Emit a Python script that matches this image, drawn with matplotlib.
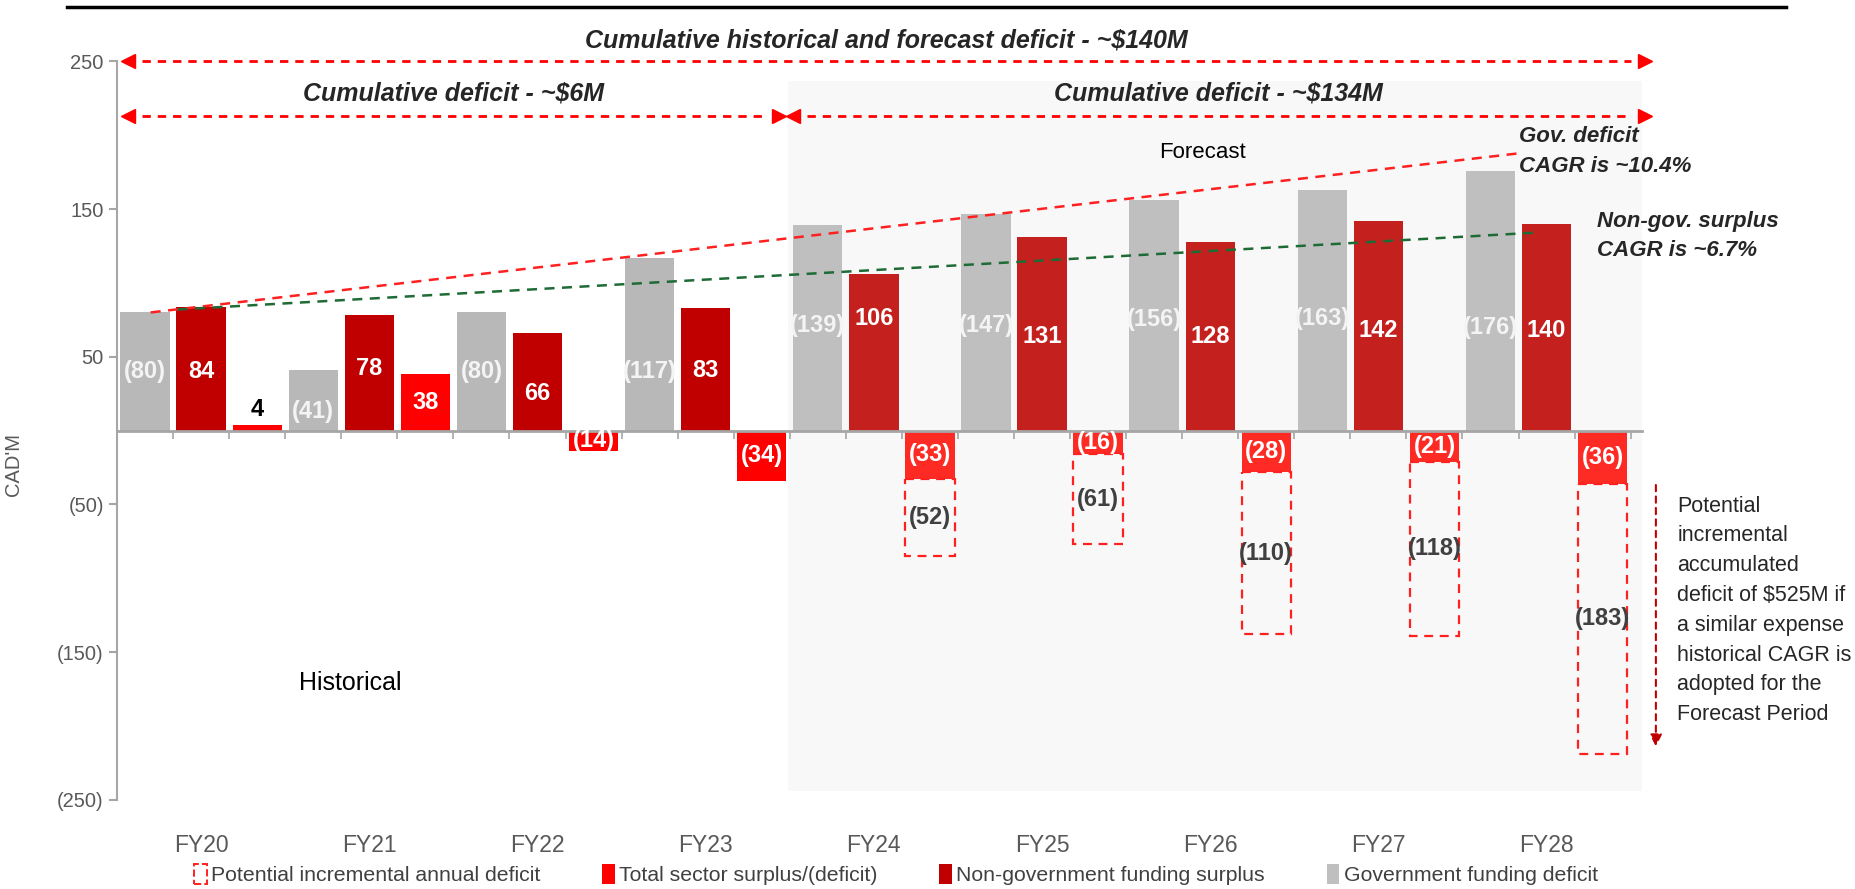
import matplotlib
matplotlib.use("Agg")
import matplotlib.pyplot as plt
from matplotlib import font_manager
from matplotlib.patches import Patch, Rectangle
from matplotlib.lines import Line2D
import numpy as np

# ---- data ----
years = ["FY20", "FY21", "FY22", "FY23", "FY24", "FY25", "FY26", "FY27", "FY28"]
gov_deficit = [80, 41, 80, 117, 139, 147, 156, 163, 176]
nongov_surplus = [84, 78, 66, 83, 106, 131, 128, 142, 140]
total_sector = [4, 38, -14, -34, -33, -16, -28, -21, -36]
# potential incremental annual deficit (forecast years only)
incr_years = ["FY24", "FY25", "FY26", "FY27", "FY28"]
incr_deficit = [-52, -61, -110, -118, -183]

yticks = [250, 150, 50, -50, -150, -250]
ytick_labels = ["250", "150", "50", "(50)", "(150)", "(250)"]

# label heights inside the bars (layout only)
gov_label_y = [40, 13, 40, 40, 71, 71, 75, 76, 70]
nongov_label_y = [40, 42, 25, 41, 76, 64, 64, 68, 68]

names = {f.name for f in font_manager.fontManager.ttflist}
NARROW = "Liberation Sans Narrow" if "Liberation Sans Narrow" in names else "Liberation Sans"
REG = "Liberation Sans"
plt.rcParams['font.family'] = [REG, 'DejaVu Sans']


def paren(v):
    return f"({abs(v)})" if v < 0 else f"{v}"


fig = plt.figure(figsize=(18.55, 8.89), dpi=100)
ax = fig.add_axes([0.0631, 0.1005, 0.822, 0.8304])
ax.set_xlim(-0.5, 26.7)
ax.set_ylim(-250, 250)

# forecast shading
ax.add_patch(Rectangle((11.46, -244), 26.75 - 11.46, 481, facecolor='#f8f8f8',
                       edgecolor='none', zorder=0))

n = len(years)
x_gov = np.arange(n) * 3
x_ng = x_gov + 1
x_tot = x_gov + 2
w = 0.88
fc = [k >= 4 for k in range(n)]

ax.bar(x_gov, gov_deficit, width=w, color=['#bfbfbf' if f else '#b8b8b8' for f in fc], zorder=2)
ax.bar(x_ng, nongov_surplus, width=w, color=['#c3201e' if f else '#c00000' for f in fc], zorder=2)
ax.bar(x_tot, total_sector, width=w, color=['#fd2b24' if f else '#ff0000' for f in fc], zorder=2)

# dashed boxes for potential incremental deficit
incr_idx = [years.index(y) for y in incr_years]
incr_x = x_tot[incr_idx]
incr_base = np.array(total_sector)[incr_idx]
ax.bar(incr_x, incr_deficit, bottom=incr_base, width=w, fill=False,
       edgecolor='#ff2020', linestyle=(0, (4, 3)), linewidth=1.6, zorder=2)

lab_kw = dict(ha='center', va='center', fontfamily=NARROW, fontweight='bold', fontsize=17, zorder=5)
for i in range(n):
    ax.text(x_gov[i], gov_label_y[i], f"({gov_deficit[i]})", color='#f4f4f4', **lab_kw)
    ax.text(x_ng[i], nongov_label_y[i], f"{nongov_surplus[i]}", color='white', **lab_kw)
    t = total_sector[i]
    if 0 <= t < 10:
        ax.text(x_tot[i], t + 10, paren(t), color='black', **lab_kw)
    else:
        ax.text(x_tot[i], t / 2, paren(t), color='white', **lab_kw)
for xi, b, v in zip(incr_x, incr_base, incr_deficit):
    ax.text(xi, b + v / 2, paren(v), color='#404040', **lab_kw)

# axes styling
for s in ['top', 'right']:
    ax.spines[s].set_visible(False)
ax.spines['left'].set_color('#a6a6a6')
ax.spines['left'].set_linewidth(1.5)
ax.spines['bottom'].set_position(('data', 0))
ax.spines['bottom'].set_color('#a6a6a6')
ax.spines['bottom'].set_linewidth(2)
ax.set_yticks(yticks)
ax.set_yticklabels(ytick_labels)
ax.tick_params(axis='y', colors='#a6a6a6', labelcolor='#595959', labelsize=14.5, length=6, width=1.5)
ax.set_xticks(np.arange(-0.5, 27, 1.0)[:28])
ax.set_xticklabels([])
ax.tick_params(axis='x', colors='#a6a6a6', length=6, width=1.2, direction='out')
ax.set_ylabel("CAD'M", color='#595959', fontsize=14.5)
ax.yaxis.set_label_coords(-0.062, 0.4535)

for i, y in enumerate(years):
    ax.text(x_ng[i], -281, y, ha='center', va='center', color='#595959', fontsize=16.5, clip_on=False)

# cumulative arrows
red = '#ff0000'


def dbl_arrow(x0, x1, y, txt, ty):
    ax.plot([x0 + 0.25, x1 - 0.25], [y, y], color=red, linestyle=(0, (3, 2.5)), lw=2, zorder=4, clip_on=False)
    ax.plot([x0], [y], marker='<', color=red, markersize=10, zorder=4, clip_on=False)
    ax.plot([x1], [y], marker='>', color=red, markersize=10, zorder=4, clip_on=False)
    ax.text((x0 + x1) / 2, ty, txt, ha='center', va='center', fontfamily=NARROW,
            fontweight='bold', fontstyle='italic', fontsize=18, color='#262626', clip_on=False)


dbl_arrow(-0.3, 26.75, 250, "Cumulative historical and forecast deficit - ~$140M", 264)
dbl_arrow(-0.3, 11.3, 213, "Cumulative deficit - ~$6M", 228)
dbl_arrow(11.55, 26.75, 213, "Cumulative deficit - ~$134M", 228)

# CAGR trend lines
ax.plot([0.1, 24.56], [80, 188], color='#ff2020', linestyle=(0, (4, 3)), lw=1.8, zorder=3)
ax.plot([0.58, 24.78], [82, 134], color='#1e6b35', linestyle=(0, (4, 3)), lw=1.8, zorder=3)
ax.text(24.5, 206, "Gov. deficit\nCAGR is ~10.4%", ha='left', va='top', fontfamily=NARROW,
        fontweight='bold', fontstyle='italic', fontsize=16, color='#262626', linespacing=1.55)
ax.text(25.9, 149, "Non-gov. surplus\nCAGR is ~6.7%", ha='left', va='top', fontfamily=NARROW,
        fontweight='bold', fontstyle='italic', fontsize=16, color='#262626', linespacing=1.5,
        clip_on=False)

ax.text(18.87, 188, "Forecast", ha='center', va='center', fontfamily=NARROW, fontsize=16, color='black')
ax.text(3.66, -171, "Historical", ha='center', va='center', fontfamily=NARROW, fontsize=18, color='black')

# potential accumulated deficit note
ax.annotate("", xy=(26.95, -216), xytext=(26.95, -35),
            arrowprops=dict(arrowstyle='-|>', color='#c00000', lw=1.5, linestyle=(0, (3, 2.5)),
                            mutation_scale=18), annotation_clip=False)
ax.text(27.33, -44, "Potential\nincremental\naccumulated\ndeficit of $525M if\na similar expense\n"
        "historical CAGR is\nadopted for the\nForecast Period", ha='left', va='top',
        fontfamily=NARROW, fontsize=15.5, color='#262626', linespacing=1.55, clip_on=False)

# top rule
fig.add_artist(Line2D([67 / 1855, 1786 / 1855], [1 - 7 / 889, 1 - 7 / 889], color='black', lw=2.5))

# legend
handles = [Patch(facecolor='none', edgecolor='#ff2020', linestyle='--', lw=1.4),
           Patch(facecolor='#ff0000'), Patch(facecolor='#c00000'), Patch(facecolor='#bfbfbf')]
labels = ["Potential incremental annual deficit", "Total sector surplus/(deficit)",
          "Non-government funding surplus", "Government funding deficit"]
fig.legend(handles, labels, loc='center', bbox_to_anchor=(0.483, 0.016), ncol=4, frameon=False,
           handlelength=0.6, handleheight=1.1, handletextpad=0.2, columnspacing=2.9,
           prop=dict(family=NARROW, size=15.3), labelcolor='#404040')

fig.savefig("out.png", dpi=100)
